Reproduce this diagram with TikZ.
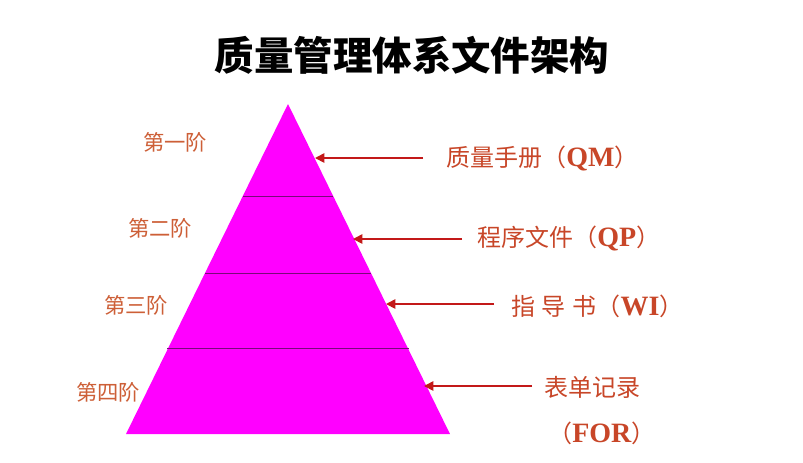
\documentclass[tikz,border=0pt]{standalone}
\usepackage{fontspec}
\setmainfont{Liberation Serif}
\newfontfamily\cjk{Noto Sans CJK SC}
\newfontfamily\latb{Liberation Serif}
\usetikzlibrary{arrows.meta}
\definecolor{mag}{RGB}{255,0,255}
\definecolor{divline}{RGB}{120,10,120}
\definecolor{arrowred}{RGB}{195,25,25}
\definecolor{lefttxt}{RGB}{205,95,55}
\definecolor{righttxt}{RGB}{200,70,40}
\tikzset{
  tierlbl/.style={inner sep=0pt, text=lefttxt, font=\cjk\fontsize{16}{18}\selectfont},
  doclbl/.style={inner sep=0pt, anchor=west, text=righttxt, font=\cjk\fontsize{18}{20}\selectfont},
  pointer/.style={draw=arrowred, line width=1.3pt, -{Triangle[length=7pt,width=7pt]}},
  divider/.style={draw=divline, line width=0.7pt}
}
\newcommand{\lat}[1]{{\latb\bfseries\fontsize{21}{22}\selectfont #1}}
\begin{document}
\begin{tikzpicture}[x=0.75pt,y=-0.75pt]
\useasboundingbox[fill=white] (0,0) rectangle (803,462);
% title
\node[inner sep=0pt, font=\cjk\bfseries\fontsize{29.6}{32}\selectfont] (title) at (412,55) {质量管理体系文件架构};
% pyramid
\coordinate (apex) at (288,104);
\coordinate (bl) at (126,434);
\coordinate (br) at (450,434);
\fill[mag] (apex) -- (br) -- (bl) -- cycle;
\draw[divider] (243,196) -- (333,196);
\draw[divider] (205,273) -- (371,273);
\draw[divider] (167,348) -- (409,348);
% tier labels
\node[tierlbl] (t1) at (175,142) {第一阶};
\node[tierlbl] (t2) at (160,228) {第二阶};
\node[tierlbl] (t3) at (136,305) {第三阶};
\node[tierlbl] (t4) at (108,392) {第四阶};
% document labels
\node[doclbl] (qm) at (446,158) {质量手册（\lat{QM}）};
\node[doclbl] (qp) at (477,238) {程序文件（\lat{QP}）};
\node[doclbl] (wi) at (511,306) {指\hspace{5pt}导\hspace{5pt}书（\lat{WI}）};
\node[doclbl] (for) at (544,387) {表单记录};
\node[doclbl] (for2) at (548,433) {（\lat{FOR}）};
% arrow tips
\coordinate (q1) at (315,158);
\coordinate (q2) at (353,239);
\coordinate (q3) at (386,304);
\coordinate (q4) at (424,386);
\coordinate (s1) at (423,158);
\coordinate (s2) at (462,239);
\coordinate (s3) at (494,304);
\coordinate (s4) at (532,386);
\draw[pointer] (s1) -- (q1);
\draw[pointer] (s2) -- (q2);
\draw[pointer] (s3) -- (q3);
\draw[pointer] (s4) -- (q4);
\end{tikzpicture}
\end{document}
